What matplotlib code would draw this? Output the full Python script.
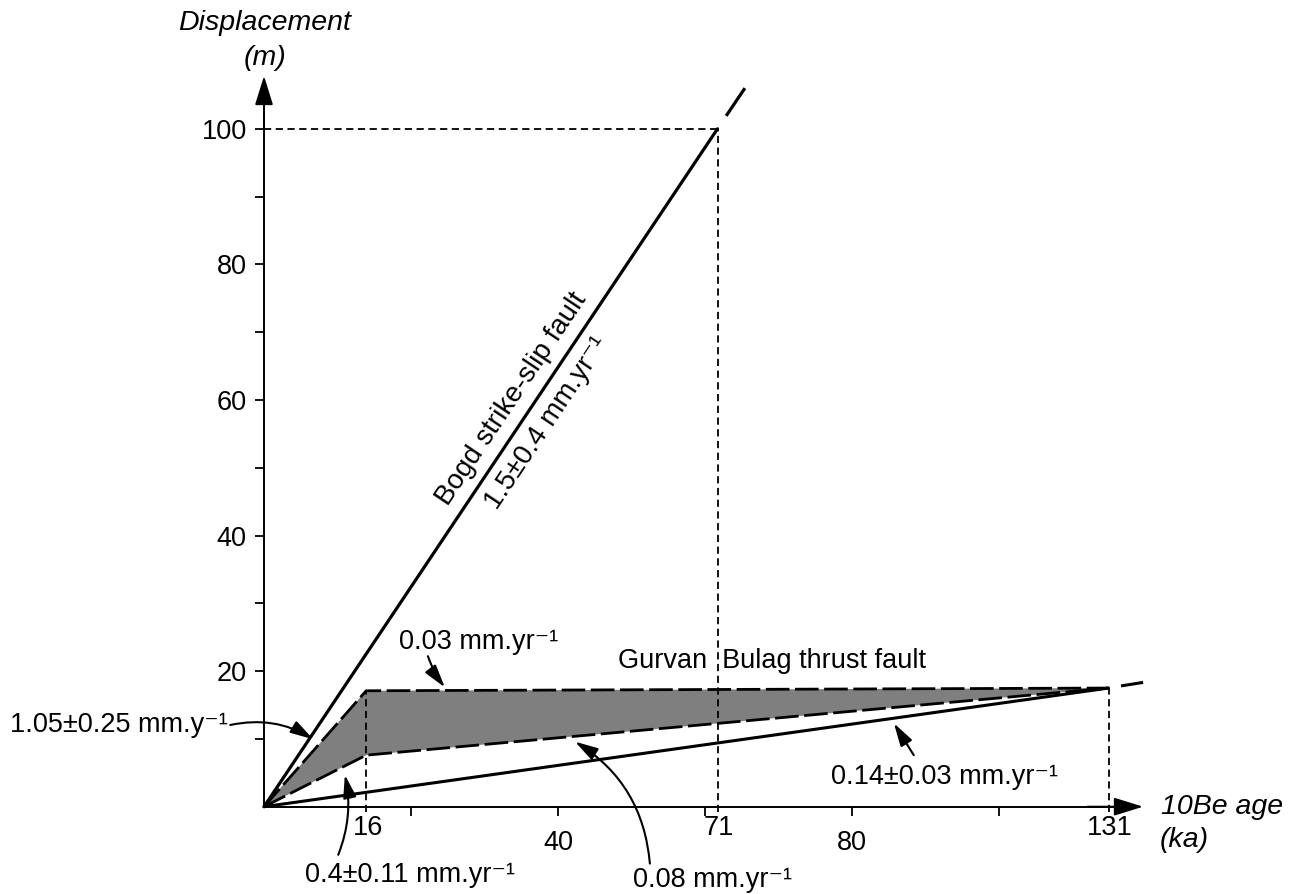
import matplotlib
matplotlib.use("Agg")
import matplotlib.pyplot as plt

plt.rcParams["font.family"] = ["Liberation Sans", "DejaVu Sans"]

# dated surfaces (labels) and where they sit on the drawn age axis
age_labels = ["16", "71", "131"]
age_pos = [13.9, 61.7, 114.9]

x_ticks = [20, 40, 60, 80, 100]
x_ticklabels = ["", "40", "", "80", ""]
y_ticks = [10, 20, 30, 40, 50, 60, 70, 80, 90, 100]
y_ticklabels = ["", "20", "", "40", "", "60", "", "80", "", "100"]

# Bogd strike-slip fault
bogd_x = [0, 61.7]
bogd_y = [0, 100]
bogd_ext_x = [63.0, 65.3]
bogd_ext_y = [102.1, 105.8]

# Gurvan Bulag thrust fault envelope
gb_upper_x = [0, 13.9, 114.9]
gb_upper_y = [0, 17.1, 17.5]
gb_lower_x = [0, 13.9, 114.9]
gb_lower_y = [0, 7.6, 17.5]
gb_min_x = [0, 114.9]
gb_min_y = [0, 17.5]
gb_ext_x = [116.8, 119.4]
gb_ext_y = [17.85, 18.3]

FS = 19.5

fig = plt.figure(figsize=(12.92, 8.94), dpi=100)
ax = fig.add_axes([0, 0, 1, 1])
ax.set_xlim(-35.92, 139.86)
ax.set_ylim(-12.88, 119.0)

for s in ["top", "right"]:
    ax.spines[s].set_visible(False)
ax.spines["left"].set_position(("data", 0))
ax.spines["bottom"].set_position(("data", 0))
ax.spines["left"].set_bounds(0, 106)
ax.spines["bottom"].set_bounds(0, 118)
ax.spines["left"].set_linewidth(1.4)
ax.spines["bottom"].set_linewidth(1.4)

ax.set_xticks(x_ticks)
ax.set_xticklabels(x_ticklabels)
ax.set_yticks(y_ticks)
ax.set_yticklabels(y_ticklabels)
ax.tick_params(axis="x", direction="out", length=6.5, width=1.3, pad=10, labelsize=FS)
ax.tick_params(axis="y", direction="out", length=6.5, width=1.3, pad=6, labelsize=FS)

# axis arrowheads
head = dict(arrowstyle="-|>,head_length=0.9,head_width=0.28", color="black",
            lw=1.4, shrinkA=0, shrinkB=0, mutation_scale=20)
ax.annotate("", xy=(0, 107.8), xytext=(0, 100), arrowprops=head)
ax.annotate("", xy=(119.6, 0), xytext=(112, 0), arrowprops=head)

thin = dict(color="black", lw=1.3, linestyle=(0, (4, 2.5)))
thick = dict(color="black", lw=2.0, linestyle=(0, (8.5, 2)))

# guide lines
ax.plot([age_pos[0], age_pos[0]], [-0.8, gb_upper_y[1]], **thin)
ax.plot([age_pos[1], age_pos[1]], [-0.8, bogd_y[1]], **thin)
ax.plot([0, age_pos[1]], [bogd_y[1], bogd_y[1]], **thin)
ax.plot([age_pos[2], age_pos[2]], [-0.8, gb_upper_y[2]], **thin)

# shaded envelope
ax.fill(gb_upper_x + gb_lower_x[::-1], gb_upper_y + gb_lower_y[::-1],
        color="#7f7f7f", lw=0)
ax.plot(gb_upper_x, gb_upper_y, **thick)
ax.plot(gb_lower_x, gb_lower_y, **thick)
ax.plot(gb_min_x, gb_min_y, color="black", lw=2.2, solid_capstyle="round")
ax.plot(gb_ext_x, gb_ext_y, color="black", lw=2.2)

ax.plot(bogd_x, bogd_y, color="black", lw=2.3, solid_capstyle="round")
ax.plot(bogd_ext_x, bogd_ext_y, color="black", lw=2.3)

# axis titles
ax.text(0.1, 115.6, "Displacement", style="italic", fontsize=20.5, ha="center", va="center")
ax.text(0.1, 110.4, "(m)", style="italic", fontsize=20.5, ha="center", va="center")
ax.text(122.1, 0.0, "10Be age", style="italic", fontsize=20.5, ha="left", va="center")
ax.text(121.9, -4.9, "(ka)", style="italic", fontsize=20.5, ha="left", va="center")

for lab, xp in zip(age_labels, age_pos):
    ax.text(xp + 0.2, -3.2, lab, fontsize=FS, ha="center", va="center")

# fault labels
ax.text(33.7, 60.2, "Bogd strike-slip fault", fontsize=20, rotation=56.2,
        ha="center", va="center", rotation_mode="anchor")
ax.text(38.5, 56.5, "1.5±0.4 mm.yr⁻¹", fontsize=20, rotation=56.2,
        ha="center", va="center", rotation_mode="anchor")
ax.text(48.2, 21.5, "Gurvan  Bulag thrust fault", fontsize=FS, ha="left", va="center")

# rate labels and pointers
ax.text(18.3, 24.3, "0.03 mm.yr⁻¹", fontsize=FS, ha="left", va="center")
ax.text(-34.6, 12.05, "1.05±0.25 mm.y⁻¹", fontsize=FS, ha="left", va="center")
ax.text(5.6, -10.1, "0.4±0.11 mm.yr⁻¹", fontsize=FS, ha="left", va="center")
ax.text(50.2, -10.8, "0.08 mm.yr⁻¹", fontsize=FS, ha="left", va="center")
ax.text(77.2, 4.4, "0.14±0.03 mm.yr⁻¹", fontsize=FS, ha="left", va="center")

ptr = "-|>,head_length=0.7,head_width=0.2"


def pointer(tip, start, rad):
    ax.annotate("", xy=tip, xytext=start,
                arrowprops=dict(arrowstyle=ptr, color="black", lw=1.5,
                                shrinkA=0, shrinkB=0, mutation_scale=20,
                                connectionstyle=f"arc3,rad={rad}"))


pointer((24.6, 17.6), (22.3, 22.2), 0.08)
pointer((6.7, 9.94), (-4.6, 12.05), -0.2)
pointer((11.0, 4.7), (10.1, -7.1), 0.15)
pointer((42.3, 9.6), (52.5, -8.4), 0.25)
pointer((85.7, 12.3), (88.4, 7.6), 0.0)

fig.savefig("out.png", dpi=100)
